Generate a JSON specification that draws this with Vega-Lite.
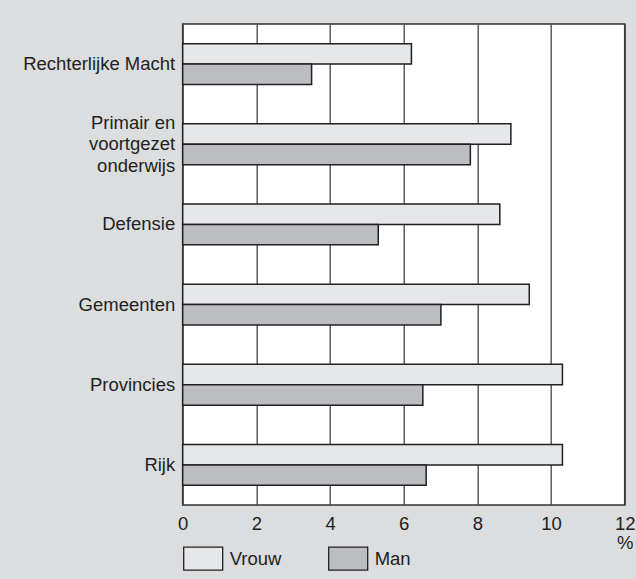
{
  "$schema": "https://vega.github.io/schema/vega-lite/v6.json",
  "width": 442,
  "height": 481,
  "autosize": {"type": "none"},
  "padding": {"left": 182.7, "top": 24, "right": 11, "bottom": 74},
  "background": "#dcdddf",
  "config": {
    "font": "Liberation Sans",
    "view": {"fill": "white", "stroke": "#333333", "strokeWidth": 1.5},
    "axis": {"labelFont": "Liberation Sans", "labelColor": "#231f20", "titleColor": "#231f20"}
  },
  "data": {
    "values": [
      {"sector": "Rechterlijke Macht", "geslacht": "Vrouw", "pct": 6.21},
      {"sector": "Rechterlijke Macht", "geslacht": "Man", "pct": 3.5},
      {"sector": "Primair en|voortgezet|onderwijs", "geslacht": "Vrouw", "pct": 8.91},
      {"sector": "Primair en|voortgezet|onderwijs", "geslacht": "Man", "pct": 7.81},
      {"sector": "Defensie", "geslacht": "Vrouw", "pct": 8.61},
      {"sector": "Defensie", "geslacht": "Man", "pct": 5.31},
      {"sector": "Gemeenten", "geslacht": "Vrouw", "pct": 9.41},
      {"sector": "Gemeenten", "geslacht": "Man", "pct": 7.01},
      {"sector": "Provincies", "geslacht": "Vrouw", "pct": 10.31},
      {"sector": "Provincies", "geslacht": "Man", "pct": 6.52},
      {"sector": "Rijk", "geslacht": "Vrouw", "pct": 10.31},
      {"sector": "Rijk", "geslacht": "Man", "pct": 6.61}
    ]
  },
  "mark": {"type": "bar", "stroke": "#231f20", "strokeWidth": 1.5},
  "encoding": {
    "y": {
      "field": "sector",
      "type": "nominal",
      "sort": null,
      "scale": {"paddingInner": 0.49, "paddingOuter": 0.245},
      "axis": {
        "title": null,
        "ticks": false,
        "domain": false,
        "labelFontSize": 18.5,
        "labelPadding": 8,
        "labelLineHeight": 21.7,
        "labelLimit": 300,
        "labelOffset": {"condition": {"test": "indexof(datum.value, '|') >= 0", "value": -21.7}, "value": 0},
        "labelExpr": "split(datum.label, '|')"
      }
    },
    "yOffset": {"field": "geslacht", "type": "nominal", "sort": ["Vrouw", "Man"]},
    "x": {
      "field": "pct",
      "type": "quantitative",
      "scale": {"domain": [0, 12], "nice": false},
      "axis": {
        "values": [0, 2, 4, 6, 8, 10, 12],
        "ticks": false,
        "domain": false,
        "grid": true,
        "gridColor": "#444444",
        "gridWidth": 1.3,
        "gridOpacity": 1,
        "labelFontSize": 18.5,
        "labelPadding": 10,
        "labelFlush": false,
        "title": "%",
        "titleFontSize": 18.5,
        "titleFontWeight": "normal",
        "titleX": 442,
        "titleY": 38,
        "titleAlign": "center",
        "titleBaseline": "middle"
      }
    },
    "color": {
      "field": "geslacht",
      "type": "nominal",
      "sort": ["Vrouw", "Man"],
      "scale": {"domain": ["Vrouw", "Man"], "range": ["#e6e7e8", "#bcbdc0"]},
      "legend": {
        "title": null,
        "orient": "none",
        "direction": "horizontal",
        "legendX": 0,
        "legendY": 514,
        "padding": 0,
        "symbolType": "M-1,-0.59H1V0.59H-1Z",
        "symbolSize": 1521,
        "symbolStrokeColor": "#231f20",
        "symbolStrokeWidth": 1.3,
        "symbolOpacity": 1,
        "labelFontSize": 18.5,
        "labelColor": "#231f20",
        "labelOffset": 6,
        "columnPadding": 44
      }
    }
  }
}
